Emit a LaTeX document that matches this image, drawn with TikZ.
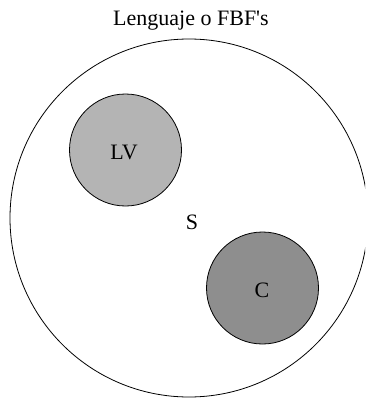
\documentclass[tikz,border=0pt]{standalone}
\usepackage{fontspec}
\setmainfont{Liberation Serif}
\definecolor{lvgray}{HTML}{B4B4B4}
\definecolor{cgray}{HTML}{8E8E8E}
\begin{document}
\begin{tikzpicture}[x=1pt,y=-1pt,
  lbl/.style={font=\fontsize{22}{26}\selectfont, inner sep=0pt},
  set/.style={circle, draw=black, line width=0.8pt, inner sep=0pt}]
\useasboundingbox (0,0) rectangle (365,401);
\fill[white] (0,0) rectangle (365,401);
\begin{scope}
\clip (0,0) rectangle (365,401);
\node[set, minimum size=358pt] (U) at (189,218) {};
\end{scope}
\node[set, fill=lvgray, minimum size=112pt] (LVc) at (125.5,150) {};
\node[set, fill=cgray, minimum size=112pt] (Cc) at (262.5,288) {};
\node[lbl] (title) at (191,21) {Lenguaje o FBF\textquotesingle s};
\node[lbl] (LV) at (124,152) {LV};
\node[lbl] (C) at (262,290) {C};
\node[lbl] (S) at (192,222) {S};
\end{tikzpicture}
\end{document}
